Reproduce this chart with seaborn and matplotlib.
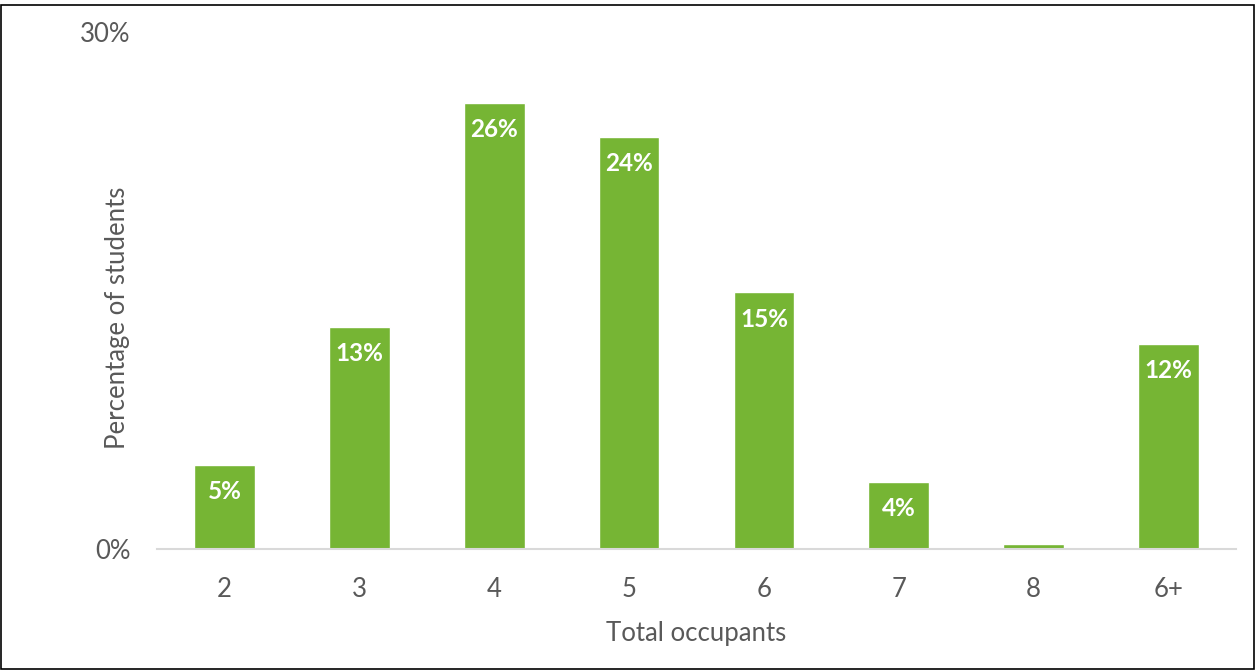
import matplotlib
matplotlib.use('Agg')
import matplotlib.pyplot as plt
import matplotlib.patches as mpatches
import seaborn as sns
import pandas as pd
from matplotlib.ticker import FixedLocator, PercentFormatter

occupants = ['2', '3', '4', '5', '6', '7', '8', '6+']
share = [0.049, 0.129, 0.259, 0.239, 0.149, 0.039, 0.003, 0.119]

df = pd.DataFrame({'Occupants': occupants, 'Share': share})

sns.set_theme(style='white')
plt.rcParams['font.family'] = ['Lato', 'DejaVu Sans']

fig = plt.figure(figsize=(12.57, 6.70), dpi=100)
ax = fig.add_axes([157 / 1257, 121 / 670, (1236 - 157) / 1257, (638 - 121) / 670])

sns.barplot(data=df, x='Occupants', y='Share', color='#76b534', width=0.45,
            saturation=1, ax=ax)

grey = '#595959'
ax.set_xlim(-0.5, len(occupants) - 0.5)
ax.set_ylim(0, 0.30)
ax.yaxis.set_major_locator(FixedLocator([0, 0.30]))
ax.yaxis.set_major_formatter(PercentFormatter(1.0, decimals=0))
ax.tick_params(axis='both', length=0, labelsize=18.5, labelcolor=grey)
ax.tick_params(axis='y', pad=19)
ax.tick_params(axis='x', pad=20)

for side in ['top', 'right', 'left']:
    ax.spines[side].set_visible(False)
ax.spines['bottom'].set_color('#d9d9d9')
ax.spines['bottom'].set_linewidth(1.5)

ax.set_xlabel('Total occupants', fontsize=18.5, color=grey, labelpad=14)
ax.set_ylabel('Percentage of students', fontsize=18.5, color=grey, va='center')
ax.yaxis.set_label_coords(-0.037, 0.447)

for p, v in zip(ax.patches, share):
    if v < 0.01:
        continue
    ax.annotate(f'{v * 100:.0f}%', (p.get_x() + p.get_width() / 2, p.get_height()),
                xytext=(0, -11), textcoords='offset points', ha='center', va='top',
                color='white', fontsize=17.5, fontweight='bold')

fig.patches.append(mpatches.Rectangle((0.001, 0.002), 0.997, 0.99, transform=fig.transFigure,
                                      fill=False, edgecolor='black', linewidth=1.2))

fig.savefig('out.png', dpi=100)
